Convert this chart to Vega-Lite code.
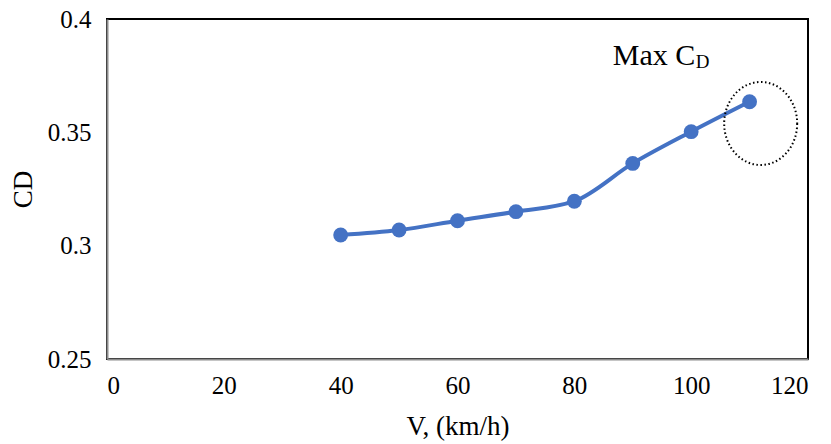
{
  "$schema": "https://vega.github.io/schema/vega-lite/v6.json",
  "width": 701,
  "height": 340,
  "autosize": "none",
  "padding": {"left": 107, "top": 19, "right": 23, "bottom": 85},
  "background": "white",
  "config": {
    "font": "Liberation Serif",
    "view": {"stroke": "#000000", "strokeWidth": 2},
    "axis": {
      "labelFont": "Liberation Serif",
      "titleFont": "Liberation Serif",
      "labelFontSize": 25,
      "titleFontSize": 27,
      "labelColor": "#000000",
      "titleColor": "#000000",
      "titleFontWeight": "normal",
      "grid": false,
      "ticks": false,
      "domainColor": "#8c8c8c",
      "domainWidth": 2
    }
  },
  "datasets": {
    "cd": [
      {"V": 40, "CD": 0.3047},
      {"V": 50, "CD": 0.3069},
      {"V": 60, "CD": 0.3110},
      {"V": 70, "CD": 0.3150},
      {"V": 80, "CD": 0.3196},
      {"V": 90, "CD": 0.3363},
      {"V": 100, "CD": 0.3503},
      {"V": 110, "CD": 0.3635}
    ],
    "ellipse": [{"V": 111.9, "CD": 0.3539}],
    "label1": [{"V": 100.7, "CD": 0.3797, "t": "Max C"}],
    "label2": [{"V": 100.8, "CD": 0.3786, "t": "D"}]
  },
  "layer": [
    {
      "data": {"name": "cd"},
      "mark": {"type": "line", "color": "#4472C4", "strokeWidth": 4, "interpolate": "monotone"},
      "encoding": {
        "x": {"field": "V", "type": "quantitative", "scale": {"domain": [0, 120], "nice": false}, "axis": {"values": [0, 20, 40, 60, 80, 100, 120], "title": "V, (km/h)", "labelPadding": 14, "titlePadding": 15}},
        "y": {"field": "CD", "type": "quantitative", "scale": {"domain": [0.25, 0.4], "nice": false, "zero": false}, "axis": {"values": [0.25, 0.3, 0.35, 0.4], "format": "~g", "title": "CD", "labelPadding": 16, "titlePadding": 10}}
      }
    },
    {
      "data": {"name": "cd"},
      "mark": {"type": "point", "filled": true, "color": "#4472C4", "size": 220, "opacity": 1},
      "encoding": {
        "x": {"field": "V", "type": "quantitative"},
        "y": {"field": "CD", "type": "quantitative"}
      }
    },
    {
      "data": {"name": "ellipse"},
      "mark": {
        "type": "point",
        "shape": "M 1 0 C 1 0.628 0.5523 1.137 0 1.137 C -0.5523 1.137 -1 0.628 -1 0 C -1 -0.628 -0.5523 -1.137 0 -1.137 C 0.5523 -1.137 1 -0.628 1 0 Z",
        "size": 5329,
        "filled": false,
        "stroke": "#000000",
        "strokeWidth": 2,
        "strokeDash": [1.5, 2.5],
        "opacity": 1
      },
      "encoding": {
        "x": {"field": "V", "type": "quantitative"},
        "y": {"field": "CD", "type": "quantitative"}
      }
    },
    {
      "data": {"name": "label1"},
      "mark": {"type": "text", "align": "right", "baseline": "alphabetic", "fontSize": 30, "font": "Liberation Serif", "color": "#000000"},
      "encoding": {
        "x": {"field": "V", "type": "quantitative"},
        "y": {"field": "CD", "type": "quantitative"},
        "text": {"field": "t"}
      }
    },
    {
      "data": {"name": "label2"},
      "mark": {"type": "text", "align": "left", "baseline": "alphabetic", "fontSize": 19, "font": "Liberation Serif", "color": "#000000"},
      "encoding": {
        "x": {"field": "V", "type": "quantitative"},
        "y": {"field": "CD", "type": "quantitative"},
        "text": {"field": "t"}
      }
    }
  ]
}
